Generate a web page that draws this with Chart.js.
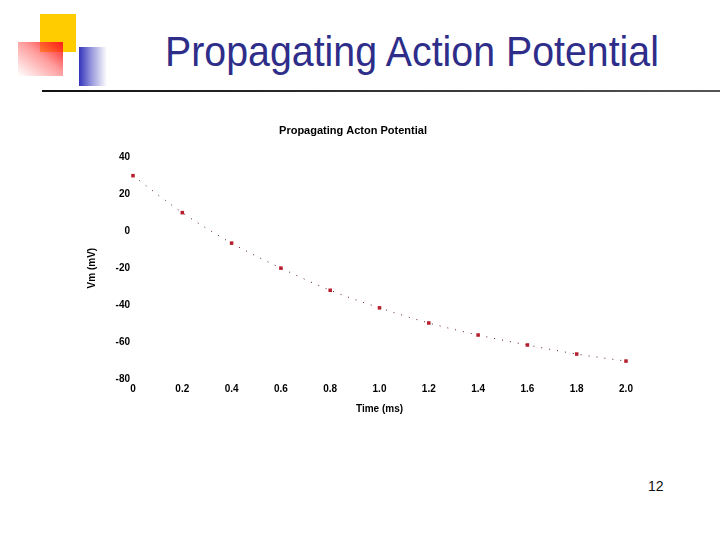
<!DOCTYPE html>
<html>
<head>
<meta charset="utf-8">
<script src="https://cdn.jsdelivr.net/npm/chart.js@4/dist/chart.umd.min.js"></script>
<style>
  body { margin: 0; background: #fff; }
  #slide { position: relative; width: 720px; height: 540px; overflow: hidden; background: #fff; }
  #chart { position: absolute; left: 0; top: 0; }
  .deco { position: absolute; }
  #yellow { left: 40px; top: 14px; width: 36px; height: 38px; background: #ffcc00; }
  #red { left: 18px; top: 42px; width: 45px; height: 34px; background: linear-gradient(to bottom left, #ff1a1a, rgba(255,90,90,0.6) 45%, #fff); }
  #blue { left: 79px; top: 47px; width: 28px; height: 39px; background: linear-gradient(to right, #3333bb, #9999dd 45%, #fff); }
  #rule { left: 42px; top: 90px; width: 678px; height: 2px; background: linear-gradient(to right, #111, #555); }
  #title { position: absolute; left: 165px; top: 31px; font-family: "Liberation Sans", Arial, sans-serif; font-size: 42px; line-height: 1; color: #2e2e8a; white-space: nowrap; transform: scaleX(0.936); transform-origin: left top; }
  #page { position: absolute; left: 648px; top: 478px; font-family: "Liberation Sans", Arial, sans-serif; font-size: 14px; color: #111; }
</style>
</head>
<body>
<div id="slide">
  <div class="deco" id="yellow"></div>
  <div class="deco" id="red"></div>
  <div class="deco" id="blue"></div>
  <div class="deco" id="rule"></div>
  <div id="title">Propagating Action Potential</div>
  <div id="page">12</div>
  <canvas id="chart" width="720" height="540"></canvas>
</div>
<script>
// time (ms) and membrane potential (mV)
const timeMs = [0, 0.2, 0.4, 0.6, 0.8, 1.0, 1.2, 1.4, 1.6, 1.8, 2.0];
const vm = [30, 10, -6.5, -20, -32, -41.5, -49.7, -56.2, -61.6, -66.5, -70.3];

const yTicks = [-80, -60, -40, -20, 0, 20, 40];

const chartTitle = 'Propagating Acton Potential';
const xTitle = 'Time (ms)';
const yTitle = 'Vm (mV)';

const points = timeMs.map((t, i) => ({ x: t, y: vm[i] }));

const boldFont = { family: '"Liberation Sans", Arial, sans-serif', size: 10, weight: 'bold' };

new Chart(document.getElementById('chart'), {
  type: 'scatter',
  data: {
    datasets: [{
      data: points,
      showLine: true,
      clip: false,
      borderColor: '#5a1a22',
      borderWidth: 1,
      borderDash: [1, 7],
      cubicInterpolationMode: 'monotone',
      pointStyle: 'rect',
      pointRadius: 2.5,
      pointBackgroundColor: '#b5202c',
      pointBorderColor: '#b5202c',
      pointBorderWidth: 0
    }]
  },
  options: {
    responsive: false,
    animation: false,
    layout: { padding: { left: 80, right: 94, top: 124, bottom: 122 } },
    plugins: {
      legend: { display: false },
      tooltip: { enabled: false },
      title: {
        display: true,
        text: chartTitle,
        color: '#000',
        font: { family: '"Liberation Sans", Arial, sans-serif', size: 11, weight: 'bold' },
        padding: { top: 0, bottom: 20 }
      }
    },
    scales: {
      x: {
        type: 'linear',
        min: 0,
        max: 2,
        grid: { display: false, drawTicks: false },
        border: { display: false },
        ticks: {
          stepSize: 0.2,
          color: '#000',
          font: boldFont,
          padding: 4,
          maxRotation: 0,
          callback: v => (Math.abs(v) < 1e-9 ? '0' : v.toFixed(1))
        },
        title: { display: true, text: xTitle, color: '#000', font: boldFont, padding: { top: 0, bottom: 3 } },
        afterFit: s => { s.height = 39; }
      },
      y: {
        min: -80,
        max: 40,
        grid: { display: false, drawTicks: false },
        border: { display: false },
        afterBuildTicks: s => { s.ticks = yTicks.map(v => ({ value: v })); },
        ticks: { color: '#000', font: boldFont, padding: 3 },
        title: { display: true, text: yTitle, color: '#000', font: boldFont, padding: { top: 6, bottom: 0 } },
        afterFit: s => { s.width = 53; }
      }
    }
  }
});
</script>
</body>
</html>
